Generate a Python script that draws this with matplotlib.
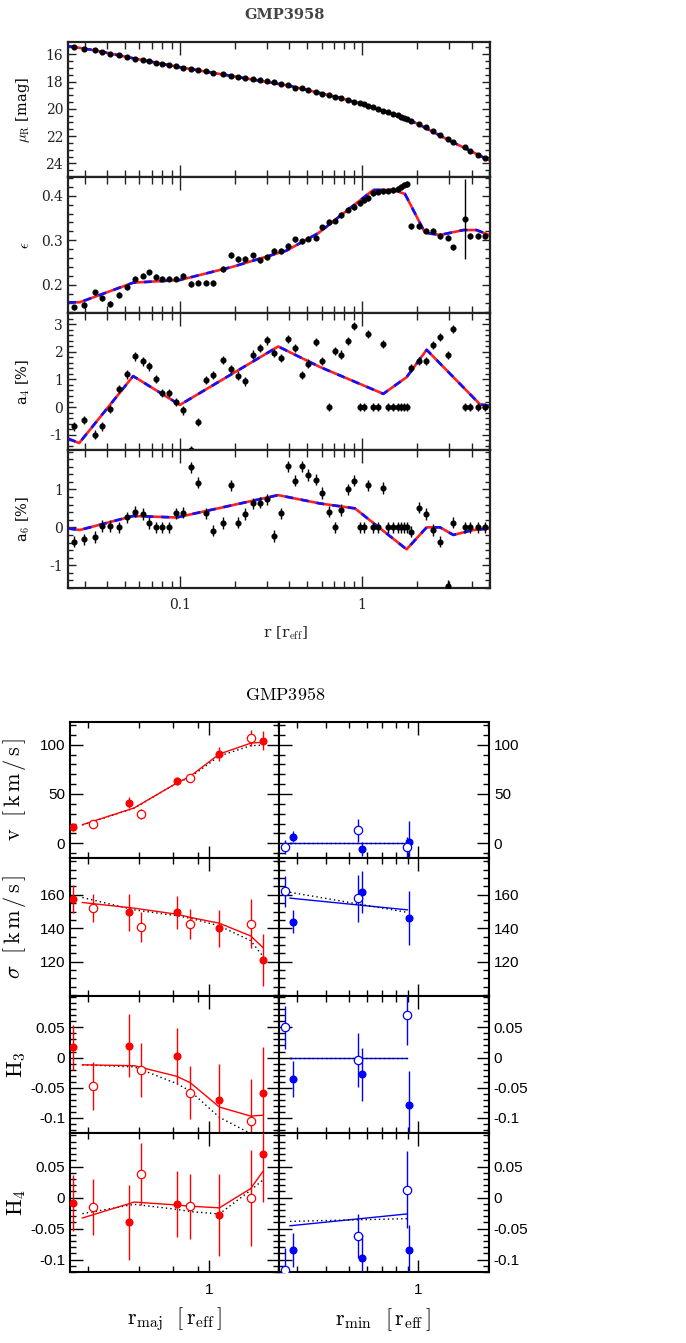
import matplotlib
matplotlib.use("Agg")
import matplotlib.pyplot as plt
from matplotlib.ticker import FixedLocator, MultipleLocator, NullFormatter, LogLocator

plt.rcParams['mathtext.fontset'] = 'cm'

# ================= Upper figure: isophote profiles =================
r_iso = [0.02616, 0.02969, 0.03412, 0.03759, 0.04124, 0.04622, 0.05093, 0.05657,
         0.06235, 0.06783, 0.07349, 0.07994, 0.08737, 0.09506, 0.1043, 0.1149,
         0.1261, 0.1384, 0.1512, 0.1715, 0.1906, 0.2074, 0.2276, 0.2507,
         0.2752, 0.2994, 0.3299, 0.3588, 0.3921, 0.4283, 0.4660, 0.5071,
         0.5589, 0.6030, 0.6613, 0.7106, 0.7635, 0.8412, 0.9077, 0.9750,
         1.030, 1.083, 1.154, 1.229, 1.310, 1.395, 1.486, 1.570,
         1.638, 1.701, 1.759, 1.851, 2.048, 2.238, 2.445, 2.684,
         2.956, 3.176, 3.681, 3.921, 4.357, 4.741]
mu_R = [15.46, 15.63, 15.71, 15.83, 15.95, 16.07, 16.20, 16.32,
        16.44, 16.51, 16.61, 16.68, 16.76, 16.88, 17.00, 17.10,
        17.17, 17.24, 17.34, 17.46, 17.59, 17.66, 17.73, 17.80,
        17.90, 17.98, 18.07, 18.17, 18.29, 18.44, 18.51, 18.63,
        18.76, 18.88, 19.00, 19.12, 19.22, 19.37, 19.49, 19.61,
        19.68, 19.80, 19.90, 20.02, 20.15, 20.27, 20.39, 20.49,
        20.59, 20.66, 20.73, 20.88, 21.12, 21.37, 21.63, 21.93,
        22.22, 22.41, 22.83, 23.07, 23.39, 23.63]
eps = [0.150, 0.155, 0.183, 0.170, 0.157, 0.177, 0.195, 0.214,
       0.221, 0.228, 0.218, 0.214, 0.214, 0.214, 0.220, 0.202,
       0.205, 0.205, 0.204, 0.236, 0.267, 0.258, 0.258, 0.266,
       0.255, 0.262, 0.276, 0.276, 0.287, 0.302, 0.298, 0.304,
       0.306, 0.329, 0.342, 0.344, 0.357, 0.369, 0.375, 0.384,
       0.390, 0.395, 0.405, 0.409, 0.410, 0.411, 0.413, 0.415,
       0.420, 0.425, 0.426, 0.331, 0.331, 0.322, 0.322, 0.310,
       0.306, 0.284, 0.347, 0.310, 0.310, 0.310]
eps_err = [0.006, 0.006, 0.006, 0.006, 0.006, 0.006, 0.006, 0.006,
           0.006, 0.006, 0.006, 0.006, 0.006, 0.006, 0.006, 0.006,
           0.006, 0.006, 0.006, 0.006, 0.006, 0.006, 0.006, 0.006,
           0.006, 0.006, 0.006, 0.006, 0.006, 0.006, 0.006, 0.006,
           0.006, 0.006, 0.006, 0.006, 0.006, 0.006, 0.006, 0.006,
           0.006, 0.006, 0.006, 0.006, 0.006, 0.006, 0.006, 0.006,
           0.006, 0.006, 0.006, 0.006, 0.006, 0.006, 0.006, 0.006,
           0.006, 0.006, 0.090, 0.006, 0.006, 0.006]
a4 = [-0.70, -0.46, -0.99, -0.70, -0.08, 0.65, 1.18, 1.83,
      1.65, 1.47, 1.02, 0.51, 0.51, 0.18, -0.12, -1.54,
      -0.55, 0.99, 1.17, 1.69, 1.37, 1.14, 0.93, 1.90,
      2.14, 2.41, 1.95, 1.77, 2.47, 2.14, 1.17, 1.57,
      2.34, 1.66, 0.00, 2.02, 1.90, 2.39, 2.92, 0.00,
      0.00, 2.63, 0.00, 0.00, 2.29, 0.00, 0.00, 0.00,
      0.00, 0.00, 0.00, 1.42, 1.66, 1.66, 2.25, 2.53,
      1.87, 2.83, 0.00, 0.00, 0.00, 0.00]
a6 = [-0.38, -0.32, -0.25, 0.04, 0.04, 0.00, 0.26, 0.41,
      0.35, 0.11, 0.00, 0.00, 0.00, 0.37, 0.39, 1.58,
      1.18, 0.37, -0.09, 0.11, 1.11, 0.12, 0.35, 0.63,
      0.65, 0.74, -0.23, 0.37, 1.61, 1.23, 1.61, 1.38,
      1.26, 0.91, 0.41, 0.00, 0.46, 1.00, 1.23, 0.00,
      0.00, 1.11, 0.00, 0.00, 1.04, 0.00, 0.00, 0.00,
      0.00, 0.00, 0.00, -0.11, 0.52, 0.35, -0.07, -0.38,
      -1.55, 0.12, 0.00, 0.00, 0.00, 0.00]
a4_err = 0.15
a6_err = 0.15
mu_err = 0.05

mu_model_r = [0.02434, 0.0341, 0.0566, 0.1, 0.2, 0.4, 0.7, 1.0, 1.5, 2.0, 3.0, 5.05]
mu_model = [15.40, 15.71, 16.32, 16.95, 17.63, 18.31, 19.09, 19.64, 20.41, 21.07, 22.30, 23.80]
eps_model_r = [0.02434, 0.02823, 0.0554, 0.1, 0.1964, 0.3855, 0.5754, 1.154,
               1.486, 1.723, 2.219, 2.684, 3.605, 4.266, 5.05]
eps_model = [0.161, 0.161, 0.205, 0.211, 0.241, 0.277, 0.316, 0.413,
             0.413, 0.404, 0.317, 0.312, 0.323, 0.323, 0.311]
a4_model_r = [0.02434, 0.02799, 0.0554, 0.1, 0.3469, 0.5877, 1.310, 1.759, 2.266, 4.450, 5.05]
a4_model = [-1.14, -1.30, 1.12, 0.08, 2.19, 1.45, 0.48, 1.08, 2.07, 0.10, 0.04]
a6_model_r = [0.02434, 0.02823, 0.0554, 0.0959, 0.3469, 0.5877, 0.915, 1.759,
              2.266, 2.684, 3.176, 4.09, 5.05]
a6_model = [-0.03, -0.07, 0.30, 0.26, 0.85, 0.63, 0.50, -0.58, 0.0, 0.0, -0.20, -0.07, -0.03]

# ================= Lower figure: kinematics =================
maj_filled_r = [0.258, 0.449, 0.726, 1.113, 1.717]
maj_open_r = [0.315, 0.506, 0.832, 1.522]
v_maj_filled = [16.0, 41.0, 62.8, 90.4, 104.1]
v_maj_filled_err = [4, 5.5, 4, 7, 10]
v_maj_open = [19.5, 30.0, 66.6, 106.8]
v_maj_open_err = [4, 5, 4, 8]
sig_maj_filled = [157.5, 149.5, 149.5, 140.0, 121.0]
sig_maj_filled_err = [8.5, 11, 10, 11, 15.5]
sig_maj_open = [152.0, 140.5, 142.5, 142.8]
sig_maj_open_err = [8.5, 9, 9, 14.5]
h3_maj_filled = [0.0167, 0.0194, 0.0028, -0.071, -0.059]
h3_maj_filled_err = [0.038, 0.052, 0.046, 0.06, 0.076]
h3_maj_open = [-0.047, -0.0206, -0.058, -0.1056]
h3_maj_open_err = [0.04, 0.044, 0.044, 0.07]
h4_maj_filled = [-0.0084, -0.040, -0.010, -0.028, 0.0707]
h4_maj_filled_err = [0.045, 0.06, 0.053, 0.066, 0.078]
h4_maj_open = [-0.0155, 0.038, -0.0144, -0.0009]
h4_maj_open_err = [0.045, 0.05, 0.053, 0.078]

maj_model_r = [0.283, 0.475, 0.726, 0.832, 1.113, 1.522, 1.717]
v_maj_fit = [18.8, 35.8, 61.0, 68.0, 90.5, 101.5, 102.5]
v_maj_dot = [18.5, 35.5, 61.0, 67.0, 88.5, 99.0, 99.5]
sig_maj_fit = [155.4, 152.0, 148.4, 146.5, 143.0, 135.4, 128.6]
sig_maj_dot = [158.4, 151.0, 147.5, 146.0, 141.4, 132.6, 123.4]
h3_maj_fit = [-0.012, -0.0135, -0.031, -0.0417, -0.082, -0.097, -0.0956]
h3_maj_dot = [-0.012, -0.0155, -0.043, -0.0556, -0.099, -0.126, -0.138]
h4_maj_fit = [-0.033, -0.0073, -0.012, -0.014, -0.0166, 0.0145, 0.0418]
h4_maj_dot = [-0.026, -0.011, -0.019, -0.0226, -0.0264, 0.0118, 0.028]

min_filled_r = [0.288, 0.571, 0.914]
min_open_r = [0.266, 0.550, 0.896]
v_min_filled = [6.8, -6.1, 1.0]
v_min_filled_err = [6, 7, 22]
v_min_open = [-4.1, 13.0, -4.0]
v_min_open_err = [7, 12, 10]
sig_min_filled = [144.0, 161.5, 146.0]
sig_min_filled_err = [7, 12.5, 16]
sig_min_open_r = [0.266, 0.550]
sig_min_open = [162.0, 158.0]
sig_min_open_err = [9, 14]
h3_min_filled = [-0.036, -0.028, -0.078]
h3_min_filled_err = [0.03, 0.044, 0.055]
h3_min_open = [0.05, -0.0044, 0.071]
h3_min_open_err = [0.035, 0.045, 0.05]
h4_min_filled = [-0.0847, -0.098, -0.0847]
h4_min_filled_err = [0.028, 0.04, 0.04]
h4_min_open = [-0.116, -0.062, 0.0129]
h4_min_open_err = [0.035, 0.035, 0.062]

min_model_r = [0.279, 0.896]
v_min_fit = [0.0, 0.0]
v_min_dot = [0.0, 0.0]
sig_min_fit = [158.0, 151.0]
sig_min_dot = [161.5, 149.5]
h3_min_fit = [0.0, 0.0]
h3_min_dot = [0.0, 0.0]
h4_min_fit = [-0.0455, -0.0264]
h4_min_dot = [-0.0384, -0.034]

W, H = 686, 1343
fig = plt.figure(figsize=(W / 100, H / 100), dpi=100)


def rect(x0, x1, y0, y1):
    return [x0 / W, 1 - y1 / H, (x1 - x0) / W, (y1 - y0) / H]


TOPFONT = 'DejaVu Serif'

# ---------- upper panels ----------
top_rows = [(42, 177), (177, 313), (313, 450), (450, 588)]
top_axes = [fig.add_axes(rect(68, 490, y0, y1)) for (y0, y1) in top_rows]

panels = [
    (mu_R, mu_err, mu_model_r, mu_model, (25.0, 15.1), [16, 18, 20, 22, 24], 0.5,
     r'$\mu_{\rm R}$ [mag]'),
    (eps, eps_err, eps_model_r, eps_model, (0.137, 0.442), [0.2, 0.3, 0.4], 0.02,
     r'$\epsilon$'),
    (a4, a4_err, a4_model_r, a4_model, (-1.55, 3.4), [-1, 0, 1, 2, 3], 0.2,
     r'a$_4$ [%]'),
    (a6, a6_err, a6_model_r, a6_model, (-1.6, 2.04), [-1, 0, 1], 0.2,
     r'a$_6$ [%]'),
]
for i, (ax, p) in enumerate(zip(top_axes, panels)):
    vals, err, mr, mv, ylim, yt, ymin, ylab = p
    ax.set_xscale('log')
    ax.plot(mr, mv, color='#ff2020', lw=1.9, zorder=2)
    ax.plot(mr, mv, color='#1010ff', lw=1.9, dashes=(3, 3), zorder=2.1)
    ax.errorbar(r_iso, vals, yerr=err, fmt='o', ms=3.4, color='black',
                elinewidth=1.0, capsize=0, zorder=3)
    ax.set_xlim(0.0243, 5.05)
    ax.set_ylim(*ylim)
    ax.yaxis.set_major_locator(FixedLocator(yt))
    ax.yaxis.set_minor_locator(MultipleLocator(ymin))
    ax.set_yticklabels([f'{t:g}' for t in yt], fontfamily=TOPFONT, fontsize=10)
    ax.xaxis.set_major_locator(FixedLocator([0.1, 1]))
    ax.xaxis.set_minor_locator(LogLocator(base=10, subs=[2, 3, 4, 5, 6, 7, 8, 9]))
    ax.xaxis.set_minor_formatter(NullFormatter())
    if i == 3:
        ax.set_xticklabels(['0.1', '1'], fontfamily=TOPFONT, fontsize=10)
    else:
        ax.set_xticklabels([])
    ax.tick_params(which='both', direction='in', top=True, right=True, width=1.0,
                   colors='#222222')
    ax.tick_params(axis='y', which='major', length=6)
    ax.tick_params(axis='y', which='minor', length=3.5)
    ax.tick_params(axis='x', which='major', length=9, pad=7)
    ax.tick_params(axis='x', which='minor', length=5)
    for s in ax.spines.values():
        s.set_linewidth(1.6)
        s.set_color('#222222')
    ax.set_ylabel(ylab, fontfamily=TOPFONT, fontsize=10.5)
    ax.yaxis.set_label_coords(-0.085, 0.5)

fig.text(285 / W, 1 - 15 / H, 'GMP3958', ha='center', va='center',
         fontfamily=TOPFONT, fontsize=10.5, fontweight='bold', color='#444444')
fig.text(285 / W, 1 - 633 / H, r'r [r$_{\rm eff}$]', ha='center', va='center',
         fontfamily=TOPFONT, fontsize=11, color='#222222')

# ---------- lower panels ----------
low_rows = [(722, 858), (858, 996), (996, 1133), (1133, 1272)]
RED, BLUE = '#ff0000', '#0000ff'
TICKFONT = 'Liberation Sans'

rows = [
    dict(ylim=(-15, 123), yt=[0, 50, 100], ylab=['0', '50', '100'], ymin=10,
         label=r'$\mathrm{v\ \ [\,k\,m\,/\,s\,]}$',
         maj=(v_maj_filled, v_maj_filled_err, v_maj_open, v_maj_open_err, v_maj_fit, v_maj_dot),
         mino=(v_min_filled, v_min_filled_err, min_open_r, v_min_open, v_min_open_err,
               v_min_fit, v_min_dot)),
    dict(ylim=(99.5, 182), yt=[120, 140, 160], ylab=['120', '140', '160'], ymin=5,
         label=r'$\sigma\ \ \mathrm{[\,k\,m\,/\,s\,]}$',
         maj=(sig_maj_filled, sig_maj_filled_err, sig_maj_open, sig_maj_open_err,
              sig_maj_fit, sig_maj_dot),
         mino=(sig_min_filled, sig_min_filled_err, sig_min_open_r, sig_min_open,
               sig_min_open_err, sig_min_fit, sig_min_dot)),
    dict(ylim=(-0.125, 0.102), yt=[-0.1, -0.05, 0, 0.05], ylab=['-0.1', '-0.05', '0', '0.05'],
         ymin=0.01, label=r'$\mathrm{H_3}$',
         maj=(h3_maj_filled, h3_maj_filled_err, h3_maj_open, h3_maj_open_err,
              h3_maj_fit, h3_maj_dot),
         mino=(h3_min_filled, h3_min_filled_err, min_open_r, h3_min_open, h3_min_open_err,
               h3_min_fit, h3_min_dot)),
    dict(ylim=(-0.12, 0.104), yt=[-0.1, -0.05, 0, 0.05], ylab=['-0.1', '-0.05', '0', '0.05'],
         ymin=0.01, label=r'$\mathrm{H_4}$',
         maj=(h4_maj_filled, h4_maj_filled_err, h4_maj_open, h4_maj_open_err,
              h4_maj_fit, h4_maj_dot),
         mino=(h4_min_filled, h4_min_filled_err, min_open_r, h4_min_open, h4_min_open_err,
               h4_min_fit, h4_min_dot)),
]


def style_low(ax, minor_x, left_side):
    ax.set_xscale('log')
    ax.set_xlim(0.25, 2.02)
    ax.xaxis.set_major_locator(FixedLocator([1]))
    ax.xaxis.set_minor_locator(FixedLocator(minor_x))
    ax.xaxis.set_minor_formatter(NullFormatter())
    ax.tick_params(which='both', direction='in', top=True, right=True, left=True,
                   width=1.0)
    ax.tick_params(which='major', length=9)
    ax.tick_params(which='minor', length=4.5)
    if not left_side:
        ax.tick_params(axis='y', labelleft=False, labelright=True)
    for s in ax.spines.values():
        s.set_linewidth(1.5)


for k, ((y0, y1), row) in enumerate(zip(low_rows, rows)):
    axl = fig.add_axes(rect(70, 279, y0, y1))
    axr = fig.add_axes(rect(279, 489, y0, y1))
    # major axis (red)
    f, fe, o, oe, fit, dot = row['maj']
    axl.plot(maj_model_r, dot, color='black', lw=1.0, dashes=(1, 2.2), zorder=2)
    axl.plot(maj_model_r, fit, color=RED, lw=1.0, zorder=2.1)
    axl.errorbar(maj_filled_r, f, yerr=fe, fmt='o', ms=4.8, color=RED,
                 elinewidth=1.0, capsize=0, zorder=3, clip_on=True)
    axl.errorbar(maj_open_r, o, yerr=oe, fmt='o', ms=6, mfc='white', mec=RED,
                 mew=0.9, color=RED, elinewidth=1.0, capsize=0, zorder=3)
    # minor axis (blue)
    f, fe, ro, o, oe, fit, dot = row['mino']
    axr.plot(min_model_r, fit, color=BLUE, lw=1.0, zorder=2)
    axr.plot(min_model_r, dot, color='black', lw=1.0, dashes=(1, 2.2), zorder=2.1)
    axr.errorbar(min_filled_r, f, yerr=fe, fmt='o', ms=4.8, color=BLUE,
                 elinewidth=1.0, capsize=0, zorder=3)
    axr.errorbar(ro, o, yerr=oe, fmt='o', ms=6, mfc='white', mec=BLUE,
                 mew=0.9, color=BLUE, elinewidth=1.0, capsize=0, zorder=3)

    for ax, mx, left in ((axl, [0.3, 0.5, 0.7, 0.9, 2],
                          True),
                         (axr, [0.3, 0.4, 0.5, 0.6, 0.7, 0.8, 0.9, 2], False)):
        ax.set_ylim(*row['ylim'])
        ax.yaxis.set_major_locator(FixedLocator(row['yt']))
        ax.yaxis.set_minor_locator(MultipleLocator(row['ymin']))
        ax.set_yticklabels(row['ylab'], fontfamily=TICKFONT, fontsize=11)
        style_low(ax, mx, left)
        if k == 3:
            ax.set_xticklabels(['1'], fontfamily=TICKFONT, fontsize=11)
            ax.tick_params(axis='x', pad=8)
        else:
            ax.set_xticklabels([])
    axl.set_ylabel(row['label'], fontsize=16)
    axl.yaxis.set_label_coords(-0.20, 0.5)

fig.text(285 / W, 1 - 695 / H, r'$\mathrm{GMP3958}$', ha='center', va='center', fontsize=13)
fig.text(175 / W, 1 - 1320 / H, r'$\mathrm{r_{maj}\ \ [\,r_{eff}\,]}$', ha='center',
         va='center', fontsize=16)
fig.text(383 / W, 1 - 1320 / H, r'$\mathrm{r_{min}\ \ [\,r_{eff}\,]}$', ha='center',
         va='center', fontsize=16)

fig.savefig('out.png', dpi=100)
